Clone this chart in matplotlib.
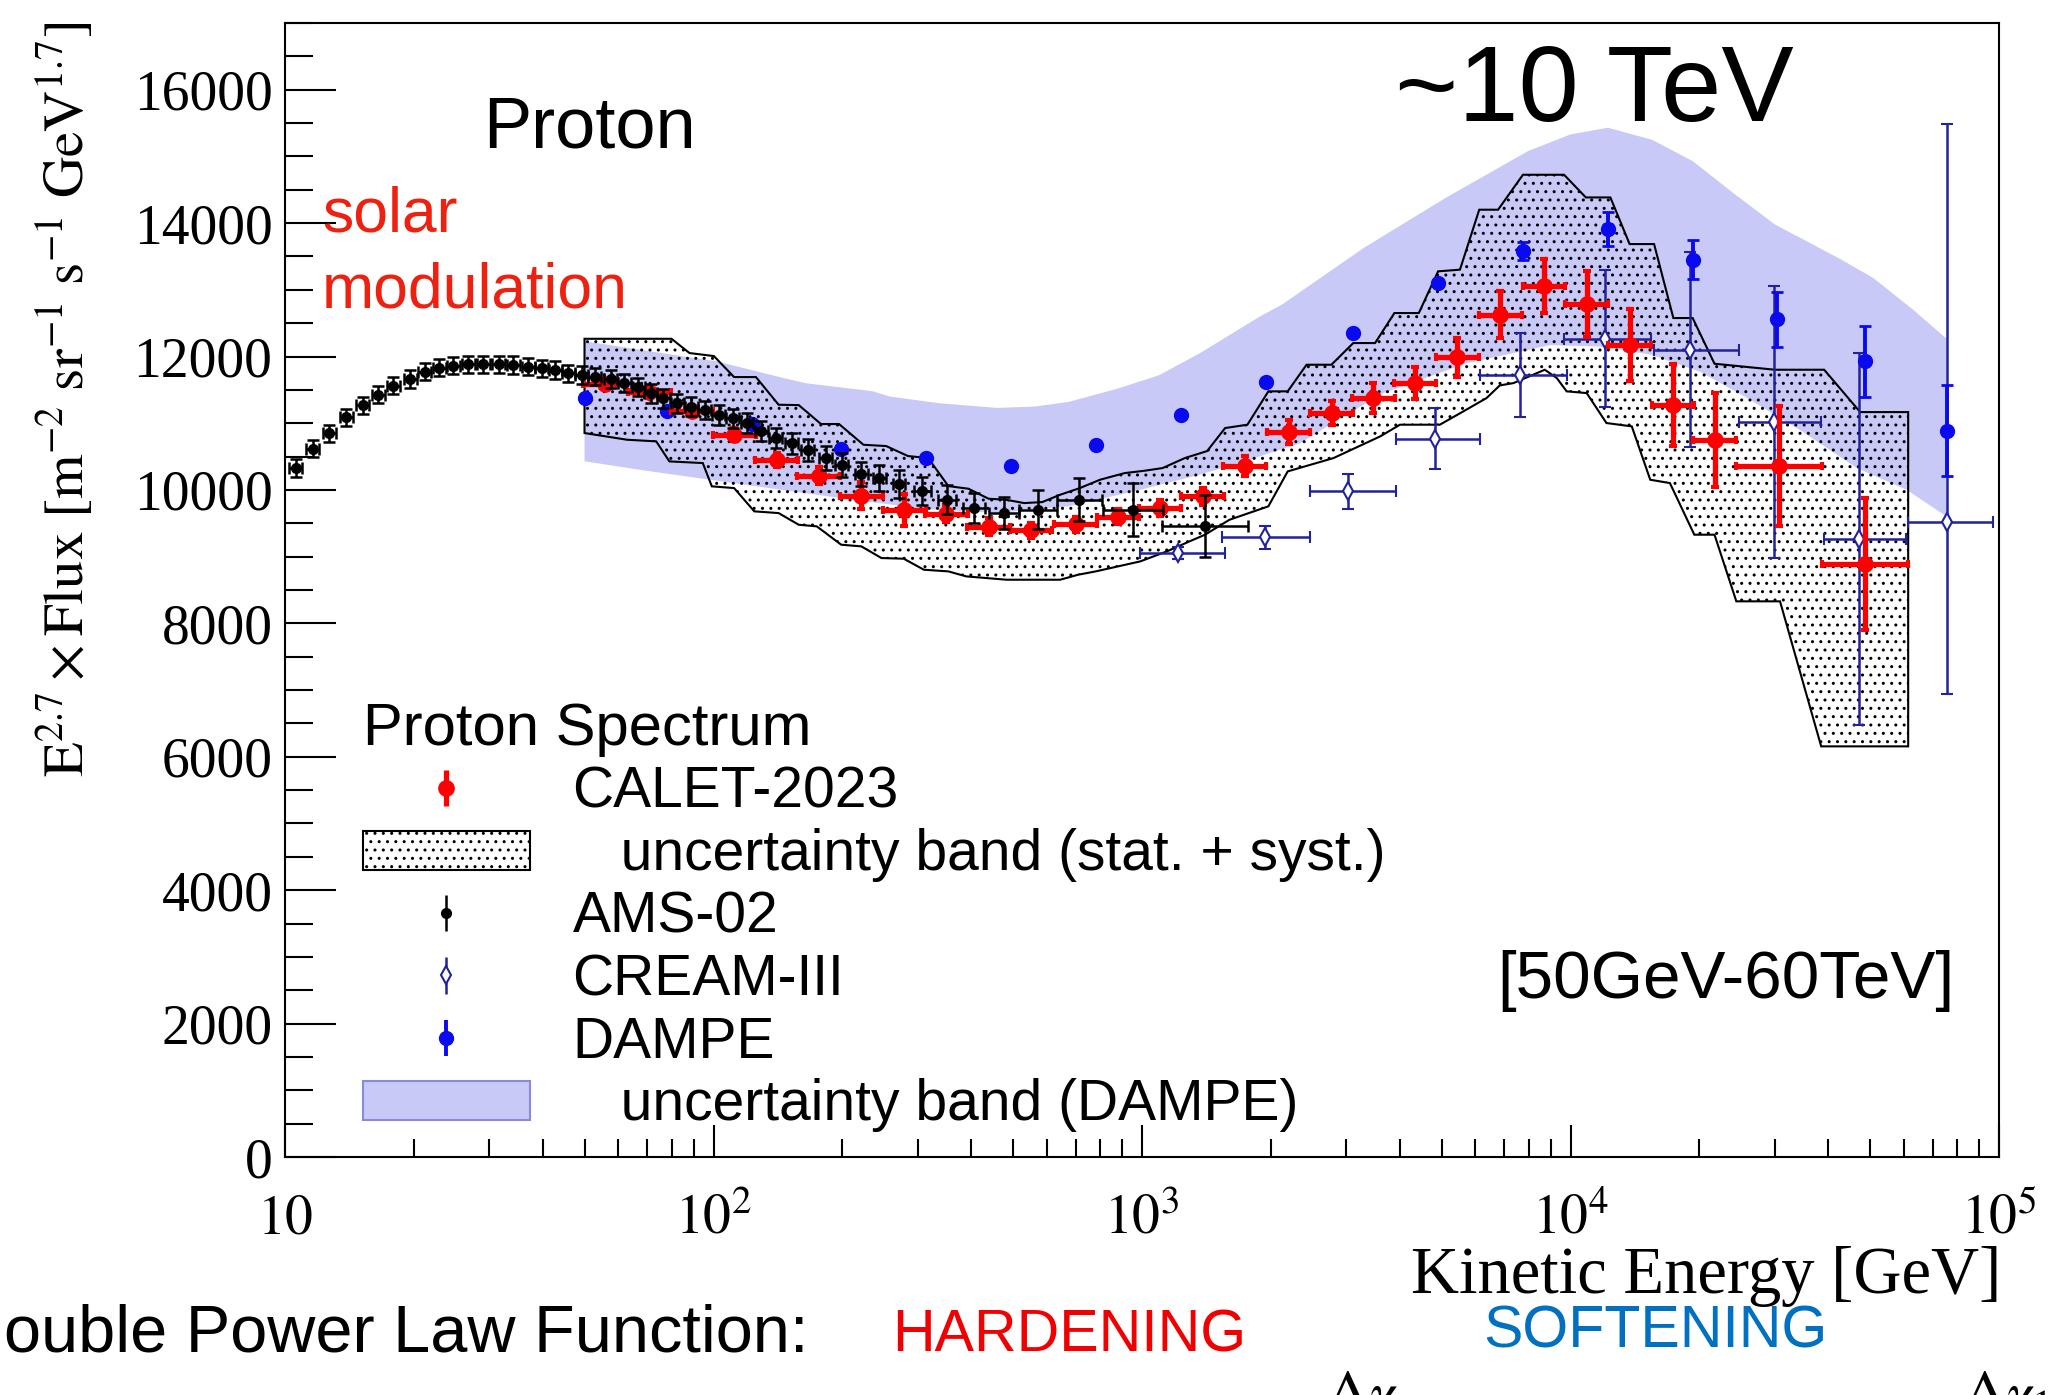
import numpy as np
import matplotlib
matplotlib.use('Agg')
import matplotlib.pyplot as plt
from matplotlib.patches import Patch
from matplotlib.legend_handler import HandlerErrorbar
from matplotlib.container import ErrorbarContainer
from matplotlib.ticker import MultipleLocator, NullFormatter

plt.rcParams['font.family'] = ['Liberation Sans', 'DejaVu Sans']
plt.rcParams['mathtext.fontset'] = 'stix'
plt.rcParams['hatch.linewidth'] = 1.0

# ---------------- data ----------------
# CALET-2023 proton points
calet_E = [55.7, 70.8, 89.1, 111.7, 140.3, 176.2, 221.3, 278.6, 349.1, 438.5,
           550.8, 699.8, 879.0, 1102, 1387, 1738, 2198, 2773, 3467, 4335,
           5445, 6855, 8670, 10910, 13740, 17340, 21680, 30690, 48640]
calet_F = [11590, 11470, 11180, 10830, 10450, 10215, 9915, 9695, 9645, 9450,
           9395, 9485, 9600, 9725, 9905, 10360, 10870, 11150, 11380, 11605,
           11990, 12630, 13060, 12790, 12170, 11270, 10750, 10360, 8890]
calet_err = [60, 60, 70, 100, 100, 130, 200, 240, 125, 125,
             110, 110, 110, 120, 130, 150, 175, 180, 225, 240,
             290, 345, 400, 490, 537, 612, 710, 900, 990]
calet_halfbin_dex = [0.05] * 27 + [0.1, 0.1]

# CALET uncertainty band (upper and lower edges)
cband_up_E = [50.0, 79.8, 87.9, 100.2, 111.7, 125.6, 141.9, 158.1, 178.2, 196.3,
              223.9, 252.9, 284.4, 317.0, 353.2, 393.6, 438.5, 481.9, 530.9, 584.8,
              644.2, 716.1, 798.0, 912.0, 1014, 1117, 1259, 1419, 1563, 1762,
              1972, 2188, 2421, 2767, 3112, 3499, 3882, 4426, 4909, 5521,
              6124, 6776, 7745, 9660, 10860, 12390, 13740, 15670, 17380, 19280,
              21680, 29990, 39080, 47430, 61380]
cband_up_F = [12266, 12266, 12052, 12007, 11692, 11692, 11277, 11272, 10988, 10988,
              10677, 10658, 10508, 10478, 10058, 10018, 9868, 9853, 9803, 9818,
              9928, 10028, 10153, 10253, 10288, 10328, 10478, 10583, 10928, 10978,
              11478, 11478, 11877, 11877, 12202, 12202, 12652, 12652, 13277, 13302,
              14201, 14201, 14725, 14725, 14385, 14385, 13686, 13686, 12577, 12577,
              11892, 11802, 11802, 11167, 11167]
cband_lo_E = [50.0, 62.8, 73.5, 78.9, 94.4, 99.1, 111.7, 124.5, 141.9, 158.1,
              174.2, 198.6, 221.3, 246.6, 278.0, 309.7, 353.2, 389.0, 483.1, 644.2,
              709.6, 779.8, 879.0, 990.8, 1143, 1291, 1403, 1600, 1972, 2188,
              2799, 3597, 3999, 4955, 5623, 6368, 6839, 7362, 8710, 9290,
              9795, 10910, 12130, 13900, 15350, 17060, 19450, 21680, 24380, 30830,
              38460, 61380]
cband_lo_F = [10853, 10753, 10728, 10428, 10403, 10054, 10028, 9679, 9653, 9478,
              9454, 9179, 9154, 8979, 8969, 8804, 8779, 8704, 8654, 8654,
              8729, 8779, 8854, 8929, 9079, 9229, 9329, 9553, 9754, 10278,
              10478, 10803, 10978, 10978, 11178, 11377, 11567, 11602, 11802, 11677,
              11478, 11452, 11003, 10953, 10153, 10103, 9329, 9329, 8330, 8330,
              6156, 6156]

# AMS-02
ams_E = [10.6, 11.6, 12.7, 13.9, 15.2, 16.5, 17.9, 19.6, 21.2, 22.9,
         24.7, 26.8, 29.0, 31.5, 34.1, 37.0, 39.7, 42.7, 45.8, 49.2,
         52.8, 57.5, 61.9, 66.7, 71.3, 76.4, 82.4, 88.7, 95.3, 102.8,
         110.9, 119.7, 129.4, 139.6, 152.4, 166.0, 182.8, 199.1, 221.3, 243.8,
         271.0, 306.9, 350.8, 405.5, 477.5, 571.5, 714.5, 952.8, 1403]
ams_F = [10330, 10620, 10850, 11090, 11270, 11430, 11565, 11665, 11775, 11835,
         11865, 11885, 11885, 11885, 11875, 11850, 11825, 11800, 11750, 11725,
         11700, 11660, 11600, 11540, 11450, 11375, 11300, 11250, 11200, 11125,
         11075, 11000, 10880, 10780, 10700, 10600, 10480, 10370, 10240, 10180,
         10090, 9980, 9855, 9730, 9655, 9705, 9855, 9705, 9460]
ams_err = [130] * 21 + [135, 135, 135, 140, 140, 140, 140, 140, 145,
                        145, 150, 150, 155, 160, 170, 175, 180, 185, 190,
                        205, 210, 220, 225, 240, 290, 325, 400, 460]
ams_halfbin_dex = [0.015] * 41 + [0.02, 0.022, 0.025, 0.035, 0.044, 0.052, 0.069, 0.1]

# CREAM-III
cream_E = [1213, 1932, 3027, 4831, 7621, 12050, 19010, 29920, 47210, 75680]
cream_F = [9050, 9290, 9980, 10770, 11720, 12270, 12100, 11020, 9270, 9520]
cream_err_up = [90, 170, 262, 460, 630, 1020, 1460, 2040, 2790, 5970]
cream_err_dn = [90, 170, 262, 460, 630, 1020, 1460, 2040, 2790, 2580]
cream_Elo = [989, 1538, 2466, 3917, 6152, 9661, 15670, 24720, 39080, 61380]
cream_Ehi = [1563, 2466, 3917, 6152, 9795, 15450, 24770, 38460, 60670, 96610]

# DAMPE
dampe_E = [50.0, 77.8, 123.0, 198.6, 313.3, 494.3, 781.6, 1230, 1945, 3112,
           4909, 7745, 12220, 19280, 30410, 48640, 75680]
dampe_F = [11380, 11180, 10995, 10620, 10480, 10355, 10675, 11125, 11625, 12360,
           13100, 13580, 13910, 13450, 12560, 11930, 10890]
dampe_err = [0, 0, 0, 0, 0, 0, 0, 0, 0, 0, 0, 140, 250, 290, 410, 535, 680]

# DAMPE uncertainty band
dband_up_E = [50.0, 70.8, 101.4, 145.2, 164.1, 235.0, 258.2, 336.5, 459.2, 562.3,
              674.5, 879.0, 1096, 1365, 1884, 2123, 3296, 5117, 7962, 10000,
              12220, 15490, 19280, 23990, 29990, 42660, 50820, 63100, 75510]
dband_up_F = [12230, 12080, 11930, 11680, 11600, 11480, 11400, 11300, 11230, 11250,
              11320, 11520, 11720, 12050, 12600, 12780, 13630, 14380, 15080, 15330,
              15430, 15250, 14930, 14450, 13980, 13460, 13180, 12700, 12265]
dband_lo_E = [50.0, 67.6, 98.9, 144.5, 213.3, 312.6, 459.2, 674.5, 988.6, 1365,
              1778, 2339, 2951, 3656, 5728, 8954, 11720, 15350, 20090, 25820,
              34670, 46560, 60950, 75510]
dband_lo_F = [10430, 10300, 10150, 10000, 9850, 9715, 9655, 9755, 10000, 10230,
              10450, 10700, 11100, 11450, 11900, 12170, 12150, 12030, 11770, 11380,
              10880, 10330, 10000, 9600]

xtick_values = [10, 1e2, 1e3, 1e4, 1e5]
xtick_labels = [r'$10$', r'$10^{2}$', r'$10^{3}$', r'$10^{4}$', r'$10^{5}$']
ytick_values = [0, 2000, 4000, 6000, 8000, 10000, 12000, 14000, 16000]
ytick_labels = ['0', '2000', '4000', '6000', '8000', '10000', '12000', '14000', '16000']

legend_title = 'Proton Spectrum'
legend_labels = ['CALET-2023', '   uncertainty band (stat. + syst.)', 'AMS-02',
                 'CREAM-III', 'DAMPE', '   uncertainty band (DAMPE)']

# ---------------- styling ----------------
RED = '#ff0000'
BLUE = '#0a0af0'
NAVY = '#22229a'
BAND_BLUE = '#c9c9f7'

W, H = 2058, 1395
fig = plt.figure(figsize=(W / 100, H / 100), dpi=100)
L, R, B, T = 285, 1999, 1157, 23
ax = fig.add_axes([L / W, 1 - B / H, (R - L) / W, (B - T) / H])
ax.set_xscale('log')

# DAMPE band
ax.fill(np.concatenate([dband_up_E, dband_lo_E[::-1]]),
        np.concatenate([dband_up_F, dband_lo_F[::-1]]),
        facecolor=BAND_BLUE, edgecolor='none', zorder=1)
# CALET band
ax.fill(np.concatenate([cband_up_E, cband_lo_E[::-1]]),
        np.concatenate([cband_up_F, cband_lo_F[::-1]]),
        facecolor='none', edgecolor='black', hatch='..', linewidth=1.5, zorder=2)

# CREAM-III
cE = np.array(cream_E)
ax.errorbar(cE, cream_F, xerr=[cE - np.array(cream_Elo), np.array(cream_Ehi) - cE],
            yerr=[cream_err_dn, cream_err_up], fmt='d', ms=9, mfc='white', mec=NAVY,
            mew=1.5, color=NAVY, elinewidth=1.8, capsize=4, capthick=1.8, zorder=4)

# DAMPE points
ax.errorbar(dampe_E, dampe_F, yerr=dampe_err, fmt='o', ms=10, color=BLUE,
            elinewidth=2.8, capsize=4.5, capthick=2, zorder=5)

# CALET points
kE = np.array(calet_E)
kd = np.array(calet_halfbin_dex)
ax.errorbar(kE, calet_F, xerr=[kE - kE / 10 ** kd, kE * 10 ** kd - kE], yerr=calet_err,
            fmt='o', ms=11, color=RED, elinewidth=3.8, capsize=3, capthick=3, zorder=6)

# AMS-02
aE = np.array(ams_E)
ad = np.array(ams_halfbin_dex)
ax.errorbar(aE, ams_F, xerr=[aE - aE / 10 ** ad, aE * 10 ** ad - aE], yerr=ams_err,
            fmt='o', ms=7, color='black', elinewidth=1.8, capsize=4, capthick=1.8, zorder=7)

ax.set_xlim(10, 1e5)
ax.set_ylim(0, 17000)

ax.set_xticks(xtick_values, labels=xtick_labels)
ax.xaxis.set_minor_formatter(NullFormatter())
ax.set_yticks(ytick_values, labels=ytick_labels, fontfamily='Liberation Serif')
ax.yaxis.set_minor_locator(MultipleLocator(500))
ax.tick_params(axis='both', which='both', direction='in', top=False, right=False, width=1.5)
ax.tick_params(axis='y', which='major', length=37, pad=9, labelsize=40)
ax.tick_params(axis='y', which='minor', length=20)
ax.tick_params(axis='x', which='major', length=23, pad=26, labelsize=40)
ax.tick_params(axis='x', which='minor', length=13)
for s in ax.spines.values():
    s.set_linewidth(1.5)

# legend proxies (marker + vertical bar only)
p_calet = ax.errorbar([np.nan], [np.nan], yerr=[1], fmt='o', ms=11, color=RED, elinewidth=3.8)
p_ams = ax.errorbar([np.nan], [np.nan], yerr=[1], fmt='o', ms=7, color='black', elinewidth=1.8)
p_cream = ax.errorbar([np.nan], [np.nan], yerr=[1], fmt='d', ms=9, mfc='white', mec=NAVY,
                      mew=1.5, color=NAVY, elinewidth=1.8)
p_dampe = ax.errorbar([np.nan], [np.nan], yerr=[1], fmt='o', ms=10, color=BLUE, elinewidth=2.8)
p_cband = Patch(facecolor='white', edgecolor='black', hatch='..', linewidth=1.5)
p_dband = Patch(facecolor=BAND_BLUE, edgecolor='#8a8ad8', linewidth=1.5)

LEG_FS = 41
leg = ax.legend([p_calet, p_cband, p_ams, p_cream, p_dampe, p_dband], legend_labels,
                title=legend_title, title_fontsize=43, fontsize=LEG_FS,
                loc='upper left', bbox_to_anchor=((363 - L) / (R - L), (B - 702) / (B - T)),
                frameon=False, alignment='left', handlelength=2.93, handleheight=0.68,
                handletextpad=0.75, labelspacing=0.15, borderpad=0, borderaxespad=0,
                handler_map={ErrorbarContainer: HandlerErrorbar(xerr_size=0.32, yerr_size=0.32)})

# ---------------- texts ----------------
def ftext(x, y, s, **kw):
    fig.text(x / W, 1 - y / H, s, va='baseline', **kw)

ftext(483, 147, 'Proton', fontsize=52)
ftext(322, 232, 'solar', fontsize=45, color='#ee2010')
ftext(322, 308, 'modulation', fontsize=45, color='#ee2010')
ftext(1395, 121, '~10 TeV', fontsize=78)
ftext(1497, 998, '[50GeV-60TeV]', fontsize=48.5)
ftext(808, 1351, 'ouble Power Law Function:', fontsize=48, ha='right')
ftext(892, 1352, 'HARDENING', fontsize=42.5, color='#f00000')
ftext(1483, 1348, 'SOFTENING', fontsize=42.5, color='#0070c0')
ftext(2001, 1293, 'Kinetic Energy [GeV]', fontsize=48, ha='right', family='Liberation Serif')
ftext(1325, 1412, r'$\Delta\gamma$', fontsize=44)
ftext(1962, 1412, r'$\Delta\gamma_1$', fontsize=44)

fig.text(66 / W, 1 - 399 / H,
         r'$\mathrm{E}^{2.7}\times\mathrm{Flux}\ [\mathrm{m}^{-2}\ \mathrm{sr}^{-1}\ \mathrm{s}^{-1}\ \mathrm{GeV}^{1.7}]$',
         rotation=90, ha='center', va='center', fontsize=41)

fig.savefig('out.png', dpi=100)
